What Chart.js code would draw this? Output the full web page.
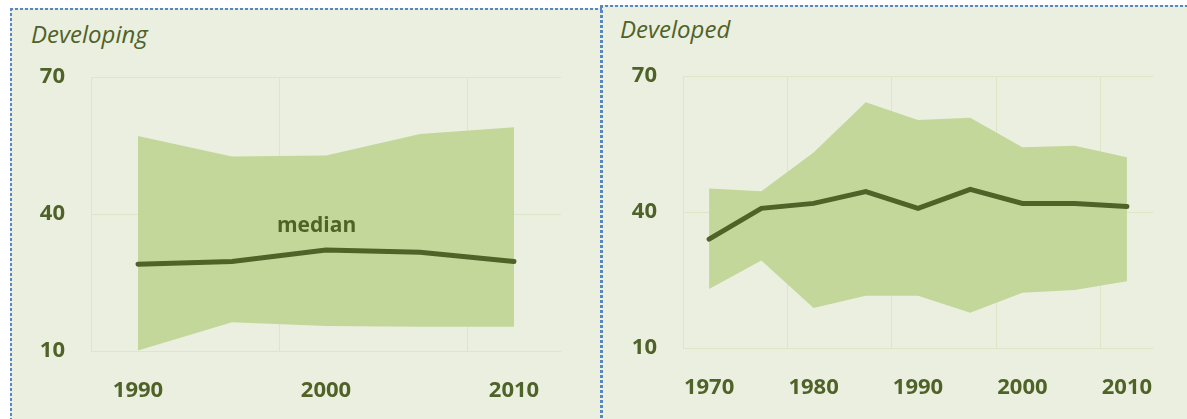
<!DOCTYPE html>
<html>
<head>
<meta charset="utf-8">
<script src="https://cdn.jsdelivr.net/npm/chart.js@4.4.1/dist/chart.umd.min.js"></script>
<style>
body { margin: 0; background: #ffffff; width: 1187px; height: 419px; overflow: hidden; position: relative; font-family: "Open Sans", sans-serif; }
.panel { position: absolute; background: #ebefdf; }
#left { left: 10px; top: 8px; width: 592px; height: 420px; }
#right { left: 601px; top: 5px; width: 600px; height: 420px; }
.dh { position: absolute; height: 2px; background: repeating-linear-gradient(to right, #5687c4 0 3px, rgba(0,0,0,0) 3px 5px); }
.dv { position: absolute; background: repeating-linear-gradient(to bottom, #5687c4 0 3px, rgba(0,0,0,0) 3px 5px); }
.ttl { position: absolute; font-family: "Open Sans", sans-serif; font-style: italic; font-size: 24px; color: #4f6228; }
canvas { position: absolute; }
</style>
</head>
<body>
<div class="panel" id="left"><div class="ttl" style="left:21px;top:9px;">Developing</div></div>
<div class="panel" id="right"><div class="ttl" style="left:19px;top:7px;">Developed</div></div>
<div class="dh" style="left:10px;top:8px;width:592px;"></div>
<div class="dv" style="left:10px;top:8px;width:2px;height:411px;"></div>
<div class="dh" style="left:600px;top:5px;width:587px;"></div>
<div class="dv" style="left:600px;top:5px;width:3px;height:414px;"></div>
<div style="position:absolute;left:12px;top:10px;width:586px;height:409px;"><canvas id="c1"></canvas></div>
<div style="position:absolute;left:603px;top:7px;width:584px;height:412px;"><canvas id="c2"></canvas></div>
<script>
// Developing economies, 5-year steps
var devYears = ['1990', '1995', '2000', '2005', '2010'];
var devUpper = [57.1, 52.6, 52.8, 57.5, 59.0];
var devLower = [10.1, 16.3, 15.5, 15.3, 15.3];
var devMedian = [29.0, 29.6, 32.1, 31.6, 29.6];

// Developed economies
var advYears = ['1970', '1975', '1980', '1985', '1990', '1995', '2000', '2005', '2010'];
var advUpper = [45.2, 44.6, 53.1, 64.2, 60.3, 60.8, 54.3, 54.6, 52.1];
var advLower = [23.0, 29.3, 18.8, 21.5, 21.5, 17.8, 22.2, 22.8, 24.7];
var advMedian = [34.0, 40.8, 41.9, 44.5, 40.8, 45.0, 41.9, 41.9, 41.2];

var yTicks = [10, 40, 70];
var medianNote = { text: 'median', x: 1.9, y: 37.4 };

var dark = '#4f6228';
var band = '#c4d79b';
var gridCol = '#dde6c6';

function makeChart(id, labels, upper, lower, median, yW, xH, pad, note) {
  var plugins = [];
  if (note) {
    plugins.push({
      id: 'medianLabel',
      afterDatasetsDraw: function (chart) {
        var c = chart.ctx;
        c.save();
        c.font = 'bold 21px "Open Sans"';
        c.fillStyle = dark;
        c.textAlign = 'center';
        c.textBaseline = 'middle';
        c.fillText(note.text, chart.scales.x.getPixelForValue(note.x), chart.scales.y.getPixelForValue(note.y));
        c.restore();
      }
    });
  }
  return new Chart(document.getElementById(id), {
    type: 'line',
    data: {
      labels: labels,
      datasets: [
        { data: median, borderColor: dark, borderWidth: 5, pointRadius: 0, fill: false, borderCapStyle: 'round', tension: 0 },
        { data: upper, borderWidth: 0, borderColor: 'rgba(0,0,0,0)', backgroundColor: band, pointRadius: 0, fill: '+1', tension: 0 },
        { data: lower, borderWidth: 0, borderColor: 'rgba(0,0,0,0)', pointRadius: 0, fill: false, tension: 0 }
      ]
    },
    options: {
      responsive: true,
      maintainAspectRatio: false,
      animation: false,
      layout: { padding: pad },
      plugins: { legend: { display: false }, tooltip: { enabled: false } },
      scales: {
        x: {
          offset: true,
          grid: {
            offset: true,
            drawTicks: false,
            color: function (ctx) { return ctx.index % 2 === 0 ? gridCol : 'rgba(0,0,0,0)'; },
            lineWidth: 1
          },
          border: { display: false },
          ticks: {
            autoSkip: false,
            maxRotation: 0,
            padding: 27,
            color: dark,
            font: { family: '"Open Sans"', size: 22, weight: 'bold' },
            callback: function (v, i) { return i % 2 === 0 ? labels[i] : ''; }
          },
          afterFit: function (s) { s.height = xH; }
        },
        y: {
          min: 10,
          max: 70,
          afterBuildTicks: function (s) { s.ticks = yTicks.map(function (v) { return { value: v }; }); },
          grid: { drawTicks: false, color: gridCol },
          border: { display: false },
          ticks: {
            padding: 26,
            color: dark,
            font: { family: '"Open Sans"', size: 22, weight: 'bold' }
          },
          afterFit: function (s) { s.width = yW; }
        }
      }
    },
    plugins: plugins
  });
}

makeChart('c1', devYears, devUpper, devLower, devMedian, 79, 68, { top: 67, right: 37, left: 0, bottom: 0 }, medianNote);
makeChart('c2', advYears, advUpper, advLower, advMedian, 80, 71, { top: 69, right: 34, left: 0, bottom: 0 }, null);
</script>
</body>
</html>
